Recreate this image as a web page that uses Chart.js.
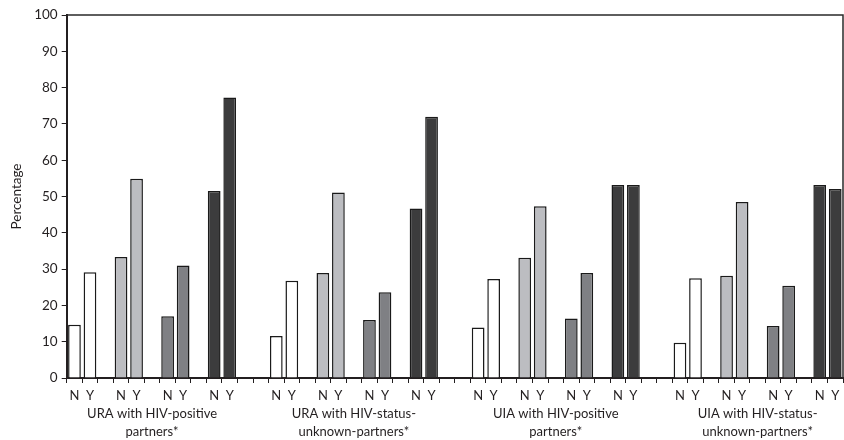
<!DOCTYPE html>
<html lang="en">
<head>
<meta charset="UTF-8">
<title>Percentage N / Y by partner type</title>
<script src="https://cdn.jsdelivr.net/npm/chart.js"></script>
<style>
    html, body { margin: 0; padding: 0; background: #fff; }
    #wrap { width: 844px; height: 440px; }
</style>
</head>
<body>
<div id="wrap"><canvas id="chart"></canvas></div>
<script>
    // group names (two lines each) and the N / Y pair labels
    const groupLabels = [
        ['URA with HIV-positive', 'partners*'],
        ['URA with HIV-status-', 'unknown-partners*'],
        ['UIA with HIV-positive', 'partners*'],
        ['UIA with HIV-status-', 'unknown-partners*']
    ];
    const pairLabels = ['N', 'Y'];

    // [N, Y] per group, one array per bar shade
    const whiteBars = [[14.7, 29.1], [11.6, 26.8], [13.9, 27.3], [9.7, 27.5]];
    const lightBars = [[33.3, 54.9], [28.9, 51.1], [33.1, 47.3], [28.2, 48.5]];
    const midBars   = [[17.0, 31.0], [16.0, 23.6], [16.4, 28.9], [14.3, 25.4]];
    const darkBars  = [[51.5, 77.3], [46.7, 72.0], [53.2, 53.2], [53.2, 52.1]];

    const shades = [whiteBars, lightBars, midBars, darkBars];
    const shadeColors = ['#ffffff', '#bcbdc1', '#7f8084', '#3c3c3d'];

    // build the slot list: N Y _ N Y _ N Y _ N Y, two blanks between groups;
    // the group name sits under the middle blank slot, below the N / Y row
    const labels = [];
    const shadeData = shades.map(() => []);

    function blank() {
        labels.push('');
        shadeData.forEach(d => d.push(null));
    }

    groupLabels.forEach((gl, g) => {
        if (g > 0) { blank(); blank(); }
        const start = labels.length;
        shades.forEach((arr, s) => {
            if (s > 0) blank();
            pairLabels.forEach((pl, k) => {
                labels.push(pl);
                shadeData.forEach((d, i) => d.push(i === s ? arr[g][k] : null));
            });
        });
        labels[start + 5] = [''].concat(gl);
    });

    // top and right frame lines of the plot box
    const frame = {
        id: 'frame',
        afterDatasetsDraw(chart) {
            const { ctx, chartArea: { left, top, right, bottom } } = chart;
            ctx.save();
            ctx.strokeStyle = '#2a2a2a';
            ctx.lineWidth = 1.5;
            ctx.beginPath();
            ctx.moveTo(left, top);
            ctx.lineTo(right, top);
            ctx.lineTo(right, bottom);
            ctx.stroke();
            ctx.restore();
        }
    };

    const font = { family: 'Lato', size: 13.5 };
    const ink = '#231f20';

    new Chart(document.getElementById('chart'), {
        type: 'bar',
        data: {
            labels: labels,
            datasets: shadeData.map((d, i) => ({
                data: d,
                backgroundColor: shadeColors[i],
                borderColor: '#1a1a1a',
                borderWidth: 1.5,
                grouped: false,
                barPercentage: 0.82,
                categoryPercentage: 1
            }))
        },
        options: {
            responsive: true,
            maintainAspectRatio: false,
            animation: false,
            layout: { padding: { top: 15, right: 1, left: 4, bottom: -5 } },
            plugins: {
                legend: { display: false },
                tooltip: { enabled: false }
            },
            scales: {
                x: {
                    offset: true,
                    grid: { drawOnChartArea: false, offset: true, tickLength: 5, color: ink },
                    border: { color: ink, width: 2 },
                    ticks: {
                        autoSkip: false, maxRotation: 0, color: ink, padding: 4,
                        font: { family: 'Lato', size: 13, lineHeight: '18px' }
                    }
                },
                y: {
                    min: 0,
                    max: 100,
                    grid: { drawOnChartArea: false, tickLength: 5, color: ink },
                    border: { color: ink, width: 2 },
                    ticks: { stepSize: 10, color: ink, font: font, padding: 4 },
                    title: { display: true, text: 'Percentage', color: ink, font: font, padding: 5 }
                }
            }
        },
        plugins: [frame]
    });
</script>
</body>
</html>
